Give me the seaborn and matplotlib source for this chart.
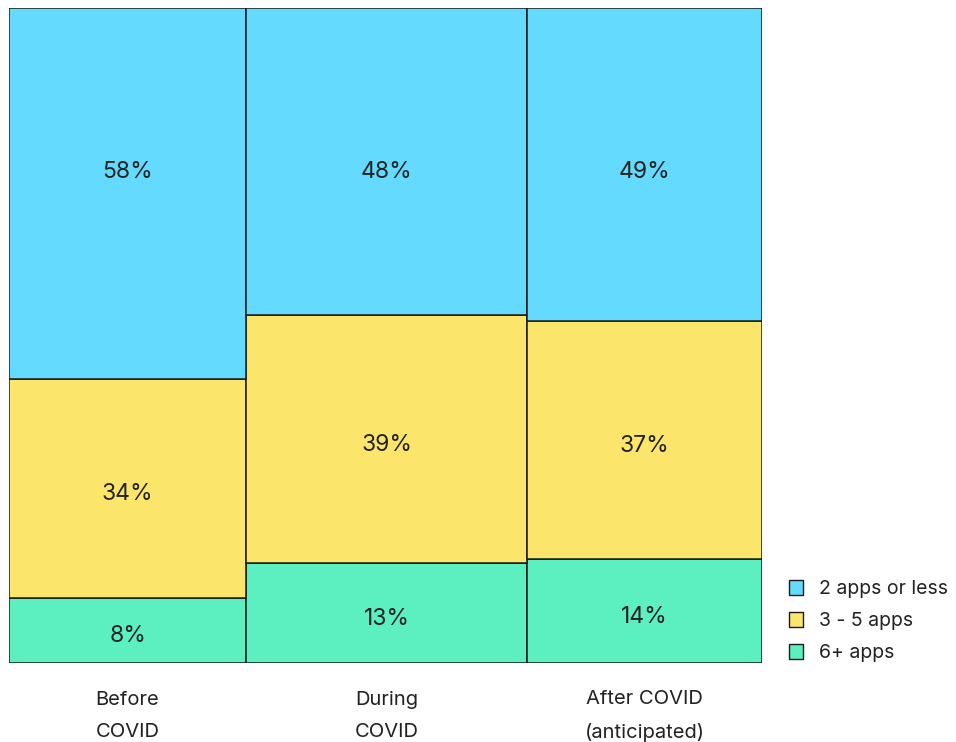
"""
Apps used per person: before, during and after COVID (mekko chart)
"""

import matplotlib.pyplot as plt
import matplotlib.patches as mpatches
import seaborn as sns
import numpy as np

sns.set_theme(style="white")
plt.rcParams["font.family"] = ["Inter", "DejaVu Sans"]

# columns and their widths (share of respondents)
categories = ["Before\nCOVID", "During\nCOVID", "After COVID\n(anticipated)"]
col_widths = [0.315, 0.373, 0.312]

# segment heights as drawn, bottom to top
six_plus = [0.100, 0.153, 0.159]
three_five = [0.333, 0.379, 0.363]
two_less = [0.567, 0.468, 0.478]

# printed labels
six_plus_lbl = [8, 13, 14]
three_five_lbl = [34, 39, 37]
two_less_lbl = [58, 48, 49]

series = ["6+ apps", "3 - 5 apps", "2 apps or less"]
colors = ["#5cefbf", "#fbe56b", "#64daff"]

fig = plt.figure(figsize=(9.56, 7.42), dpi=100)
ax = fig.add_axes([9 / 956, 79 / 742, 753 / 956, 655 / 742])

lefts = np.concatenate([[0], np.cumsum(col_widths)[:-1]])
centers = lefts + np.array(col_widths) / 2

bottom = np.zeros(3)
for vals, lbls, col, is_top in zip(
    [six_plus, three_five, two_less],
    [six_plus_lbl, three_five_lbl, two_less_lbl],
    colors,
    [False, False, True],
):
    ax.bar(lefts, vals, width=col_widths, bottom=bottom, align="edge",
           color=col, edgecolor="#1a1a1a", linewidth=1.1)
    for i in range(3):
        y = 0.749 if is_top else bottom[i] + vals[i] / 2 - 0.009
        ax.text(centers[i], y, f"{lbls[i]}%", ha="center", va="center",
                fontsize=16.5, color="#222222")
    bottom = bottom + np.array(vals)

ax.set_xlim(0, 1)
ax.set_ylim(0, 1)
ax.set_xticks([])
ax.set_yticks([])
sns.despine(ax=ax, left=True, bottom=True)

for c, name in zip(centers, categories):
    ax.text(c, -0.081, name, ha="center", va="center", fontsize=14.5,
            color="#222222", linespacing=1.95)

handles = [mpatches.Patch(facecolor=c, edgecolor="#1a1a1a", label=s)
           for c, s in zip(colors[::-1], series[::-1])]
fig.legend(handles=handles, loc="lower left", bbox_to_anchor=(775 / 956, 66 / 742),
           frameon=False, fontsize=14, handlelength=0.75, handleheight=0.75,
           labelspacing=0.72, handletextpad=0.8, borderpad=0.2, labelcolor="#222222")

fig.savefig("out.png", dpi=100)
